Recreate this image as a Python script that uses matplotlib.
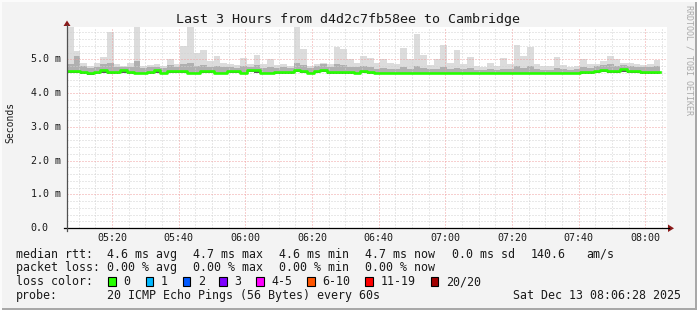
import numpy as np
import matplotlib
matplotlib.use("Agg")
import matplotlib.pyplot as plt
from matplotlib.patches import Rectangle, Polygon
from matplotlib.lines import Line2D

# ---------------- data (ms), 2-minute columns from 05:06:28 ----------------
med = [4.66, 4.66, 4.64, 4.59, 4.63, 4.68, 4.62, 4.64, 4.68, 4.64,
       4.61, 4.61, 4.64, 4.68, 4.61, 4.66, 4.65, 4.66, 4.61, 4.61,
       4.66, 4.65, 4.61, 4.61, 4.66, 4.66, 4.61, 4.69, 4.68, 4.61,
       4.61, 4.64, 4.63, 4.64, 4.69, 4.67, 4.61, 4.65, 4.69, 4.64,
       4.64, 4.63, 4.64, 4.61, 4.66, 4.64, 4.61, 4.60, 4.60, 4.60,
       4.61, 4.60, 4.60, 4.60, 4.59, 4.60, 4.59, 4.59, 4.60, 4.59,
       4.59, 4.59, 4.60, 4.59, 4.59, 4.59, 4.60, 4.59, 4.59, 4.60,
       4.59, 4.59, 4.59, 4.59, 4.60, 4.59, 4.59, 4.63, 4.62, 4.67,
       4.68, 4.66, 4.65, 4.70, 4.66, 4.65, 4.64, 4.64, 4.63]
hi = [5.96, 5.25, 4.90, 4.80, 4.90, 5.08, 5.80, 4.85, 4.80, 4.90,
      5.96, 4.80, 4.82, 4.85, 4.80, 5.00, 4.85, 5.40, 5.96, 5.19,
      5.28, 4.95, 5.10, 4.90, 4.85, 4.82, 5.04, 4.85, 5.13, 4.85,
      5.00, 4.82, 4.85, 4.80, 5.96, 5.30, 4.80, 4.85, 4.90, 4.85,
      5.38, 5.30, 5.00, 4.90, 5.10, 5.05, 4.90, 5.00, 4.90, 4.85,
      5.33, 5.00, 5.75, 5.13, 4.82, 5.00, 5.43, 4.90, 5.28, 4.85,
      5.07, 4.80, 4.78, 4.90, 4.80, 5.03, 4.85, 5.43, 5.10, 5.38,
      4.85, 4.80, 4.80, 5.07, 4.82, 4.78, 4.80, 5.00, 4.85, 4.85,
      4.95, 5.10, 5.00, 4.88, 4.90, 4.85, 4.82, 4.85, 4.98]
up = [4.85, 5.10, 4.80, 4.74, 4.78, 4.85, 4.90, 4.76, 4.78, 4.78,
      4.95, 4.74, 4.76, 4.78, 4.74, 4.82, 4.76, 4.85, 4.90, 4.80,
      4.82, 4.78, 4.80, 4.76, 4.76, 4.75, 4.80, 4.78, 4.82, 4.75,
      4.78, 4.75, 4.76, 4.74, 4.90, 4.82, 4.74, 4.80, 4.85, 4.76,
      4.85, 4.82, 4.78, 4.76, 4.80, 4.78, 4.72, 4.74, 4.72, 4.70,
      4.78, 4.72, 4.80, 4.74, 4.70, 4.72, 4.78, 4.70, 4.75, 4.70,
      4.74, 4.68, 4.68, 4.72, 4.68, 4.72, 4.70, 4.80, 4.74, 4.80,
      4.70, 4.68, 4.68, 4.74, 4.70, 4.68, 4.70, 4.78, 4.74, 4.80,
      4.82, 4.85, 4.80, 4.82, 4.80, 4.78, 4.76, 4.78, 4.80]
lo = [4.61, 4.60, 4.58, 4.55, 4.57, 4.60, 4.57, 4.58, 4.60, 4.58,
      4.56, 4.56, 4.58, 4.61, 4.56, 4.59, 4.59, 4.60, 4.56, 4.56,
      4.60, 4.59, 4.56, 4.56, 4.60, 4.60, 4.56, 4.62, 4.61, 4.56,
      4.56, 4.58, 4.58, 4.58, 4.62, 4.60, 4.56, 4.59, 4.62, 4.58,
      4.58, 4.58, 4.58, 4.56, 4.60, 4.58, 4.57, 4.56, 4.56, 4.56,
      4.57, 4.56, 4.56, 4.56, 4.56, 4.57, 4.56, 4.56, 4.57, 4.56,
      4.56, 4.56, 4.57, 4.56, 4.56, 4.56, 4.57, 4.56, 4.56, 4.57,
      4.56, 4.56, 4.56, 4.56, 4.57, 4.56, 4.56, 4.58, 4.58, 4.61,
      4.62, 4.60, 4.59, 4.63, 4.60, 4.59, 4.58, 4.58, 4.57]

x_tick_minutes = [20, 40, 60, 80, 100, 120, 140, 160, 180]  # minutes after 05:00
x_tick_labels = ["05:20", "05:40", "06:00", "06:20", "06:40", "07:00", "07:20", "07:40", "08:00"]
y_tick_values = [0, 1, 2, 3, 4, 5]
y_tick_labels = ["0.0", "1.0 m", "2.0 m", "3.0 m", "4.0 m", "5.0 m"]

loss_labels = ["0", "1", "2", "3", "4-5", "6-10", "11-19", "20/20"]
loss_colors = ["#26ff00", "#00b8ff", "#0059ff", "#7e00ff", "#ff00fe", "#ff5500", "#ff0000", "#a10000"]

title = "Last 3 Hours from d4d2c7fb58ee to Cambridge"

# ---------------- figure ----------------
W, H = 697, 310
fig = plt.figure(figsize=(W / 100, H / 100), dpi=100, facecolor="#f3f3f3")
MONO = "DejaVu Sans Mono"


def fx(x):
    return x / W


def fy(y):
    return 1 - y / H


L, R, T, B = 67, 667, 27, 228
ax = fig.add_axes([fx(L), fy(B), (R - L) / W, (B - T) / H])
ax.set_facecolor("white")
for s in ax.spines.values():
    s.set_visible(False)
ax.set_xticks([])
ax.set_yticks([])

t0 = 6 + 28 / 60.0
n = len(med)
edges = t0 + 2 * np.arange(n + 1)


def ext(a):
    return np.append(np.asarray(a, float), a[-1])


ax.fill_between(edges, ext(lo), ext(hi), step="post", color="#dcdcdc", lw=0, zorder=1)
ax.fill_between(edges, ext(lo), ext(up), step="post", color="#b0b0b0", lw=0, zorder=1.1)
ax.fill_between(edges, ext(lo), ext(med), step="post", color="#5a5a5a", lw=0, zorder=1.2)

ax.set_xlim(t0, t0 + 180)
ax.set_ylim(0, 5.96)

# grid (drawn over smoke, like rrdtool)
dot = (0, (1, 2))
for m in range(10, 190, 5):
    if m % 20 == 0:
        continue
    ax.axvline(m, color="#d2d2d2", lw=0.72, ls=dot, zorder=2)
for k in range(1, 30):
    v = k * 0.2
    if k % 5 == 0:
        continue
    ax.axhline(v, color="#d2d2d2", lw=0.72, ls=dot, zorder=2)
for m in x_tick_minutes:
    ax.axvline(m, color="#f0a0a0", lw=0.72, ls=dot, zorder=2.1)
for v in y_tick_values[1:]:
    ax.axhline(v, color="#f0a0a0", lw=0.72, ls=dot, zorder=2.1)

ax.step(edges, ext(med), where="post", color="#26ff00", lw=1.9, zorder=3)

# tick labels
for m, lab in zip(x_tick_minutes, x_tick_labels):
    ax.text(m, -(237.7 - B) / (B - T), lab, transform=ax.get_xaxis_transform(),
            ha="center", va="center", family=MONO, fontsize=7.2, color="#1a1a1a")
for v, lab in zip(y_tick_values, y_tick_labels):
    ax.text((30.7 - L) / (R - L), v, lab, transform=ax.get_yaxis_transform(),
            ha="left", va="center", family=MONO, fontsize=7.2, color="#1a1a1a")

# axes lines and arrows
fig.add_artist(Line2D([fx(64), fx(669)], [fy(228.3), fy(228.3)], color="black", lw=0.9))
fig.add_artist(Line2D([fx(67), fx(67)], [fy(231), fy(25)], color="#505050", lw=0.9))
fig.add_artist(Polygon([[fx(668), fy(224.5)], [fx(674), fy(228.3)], [fx(668), fy(232)]],
                       closed=True, color="#8b1a1a", lw=0))
fig.add_artist(Polygon([[fx(63.5), fy(26)], [fx(67), fy(20.5)], [fx(70.5), fy(26)]],
                       closed=True, color="#8b1a1a", lw=0))

# title, axis label, watermark
fig.text(fx(348.5), fy(19), title, ha="center", va="center", family=MONO, fontsize=9.6, color="#1a1a1a")
fig.text(fx(10.5), fy(122.5), "Seconds", rotation=90, ha="center", va="center",
         family=MONO, fontsize=7.0, color="#1a1a1a")
fig.text(fx(688.5), fy(60), "RRDTOOL / TOBI OETIKER", rotation=270, ha="center", va="center",
         family=MONO, fontsize=6.0, color="#aaaaaa")

# legend
LF = 8.4
y1, y2, y3, y4 = 254.3, 267.7, 281.7, 295.7


def lt(x, y, s):
    fig.text(fx(x), fy(y), s, ha="left", va="center", family=MONO, fontsize=LF, color="#1a1a1a")


lt(16, y1, "median rtt:")
for x, s in [(107.3, "4.6 ms avg"), (193.3, "4.7 ms max"), (279.3, "4.6 ms min"),
             (365.3, "4.7 ms now"), (451.5, "0.0 ms sd"), (530.3, "140.6"), (586, "am/s")]:
    lt(x, y1, s)
lt(16, y2, "packet loss:")
for x, s in [(107.3, "0.00 % avg"), (193.3, "0.00 % max"), (279.3, "0.00 % min"), (365.3, "0.00 % now")]:
    lt(x, y2, s)
lt(16, y3, "loss color:")
box_x = [108.3, 145.7, 182.7, 219.3, 256, 307.3, 365.3, 430.7]
for bx, lab, col in zip(box_x, loss_labels, loss_colors):
    fig.add_artist(Rectangle((fx(bx), fy(y3 + 4.5)), 7.7 / W, 9 / H, transform=fig.transFigure,
                             facecolor=col, edgecolor="black", lw=0.8))
    lt(bx + 15, y3, lab)
lt(16, y4, "probe:")
lt(107.3, y4, "20 ICMP Echo Pings (56 Bytes) every 60s")
lt(513.3, y4, "Sat Dec 13 08:06:28 2025")

# 3D-ish frame
fig.add_artist(Rectangle((0, 0), 1, 2.5 / H, transform=fig.transFigure, facecolor="#a8a8a8", lw=0))
fig.add_artist(Rectangle((1 - 2.5 / W, 0), 2.5 / W, 1, transform=fig.transFigure, facecolor="#a8a8a8", lw=0))
fig.add_artist(Rectangle((0, 1 - 2 / H), 1, 2 / H, transform=fig.transFigure, facecolor="#fbfbfb", lw=0))
fig.add_artist(Rectangle((0, 0), 2 / W, 1, transform=fig.transFigure, facecolor="#fbfbfb", lw=0))

fig.savefig("out.png", dpi=100, facecolor=fig.get_facecolor())
